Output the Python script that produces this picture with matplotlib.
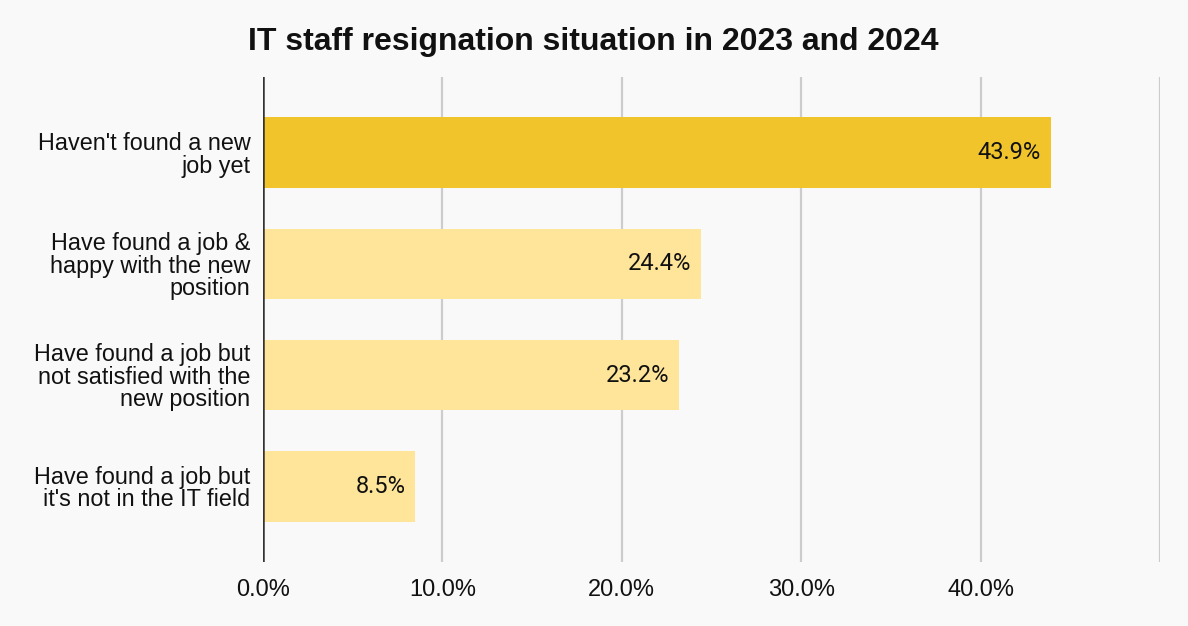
import matplotlib
matplotlib.use("Agg")
import matplotlib.pyplot as plt
from matplotlib.ticker import FuncFormatter

categories = [
    "Haven't found a new\njob yet",
    "Have found a job &\nhappy with the new\nposition",
    "Have found a job but\nnot satisfied with the\nnew position",
    "Have found a job but\nit's not in the IT field",
]
values = [43.9, 24.4, 23.2, 8.5]
colors = ["#F0C42A", "#FFE599", "#FFE599", "#FFE599"]
xticks = [0, 10, 20, 30, 40]
title = "IT staff resignation situation in 2023 and 2024"

BG = "#F9F9F9"
W, H = 1188, 626
fig = plt.figure(figsize=(W / 100, H / 100), dpi=100, facecolor=BG)
ax = fig.add_axes([263 / W, 1 - 562 / H, (1160 - 263) / W, (562 - 77) / H])
ax.set_facecolor(BG)

ypos = list(range(len(categories)))
ax.barh(ypos, values, height=0.635, color=colors, zorder=3)
for y, v in zip(ypos, values):
    ax.text(v - 0.55, y, f"{v:.1f}%", ha="right", va="center",
            fontsize=17, family="Roboto", color="#111111", zorder=4)

ax.set_xlim(0, 50)
ax.set_ylim(3.68, -0.68)
ax.set_yticks(ypos)
ax.set_yticklabels(categories, family="Liberation Sans", fontsize=16.8,
                   linespacing=0.97, ha="right")
ax.set_xticks(xticks)
ax.xaxis.set_major_formatter(FuncFormatter(lambda x, p: f"{x:.1f}%"))
for lab in ax.get_xticklabels():
    lab.set_family("Liberation Sans")
    lab.set_fontsize(17)
ax.tick_params(axis="both", length=0, colors="#111111")
ax.tick_params(axis="x", pad=12)
ax.tick_params(axis="y", pad=9)

for x in [10, 20, 30, 40, 50]:
    ax.axvline(x, color="#CCCCCC", lw=1.6, zorder=1)
ax.axvline(0, color="#333333", lw=1.8, zorder=5)
for s in ax.spines.values():
    s.set_visible(False)

fig.text(593 / W, 1 - 42 / H, title, ha="center", va="center",
         fontsize=23, fontweight="bold", family="Liberation Sans", color="#111111")

fig.savefig("out.png", dpi=100, facecolor=BG)
